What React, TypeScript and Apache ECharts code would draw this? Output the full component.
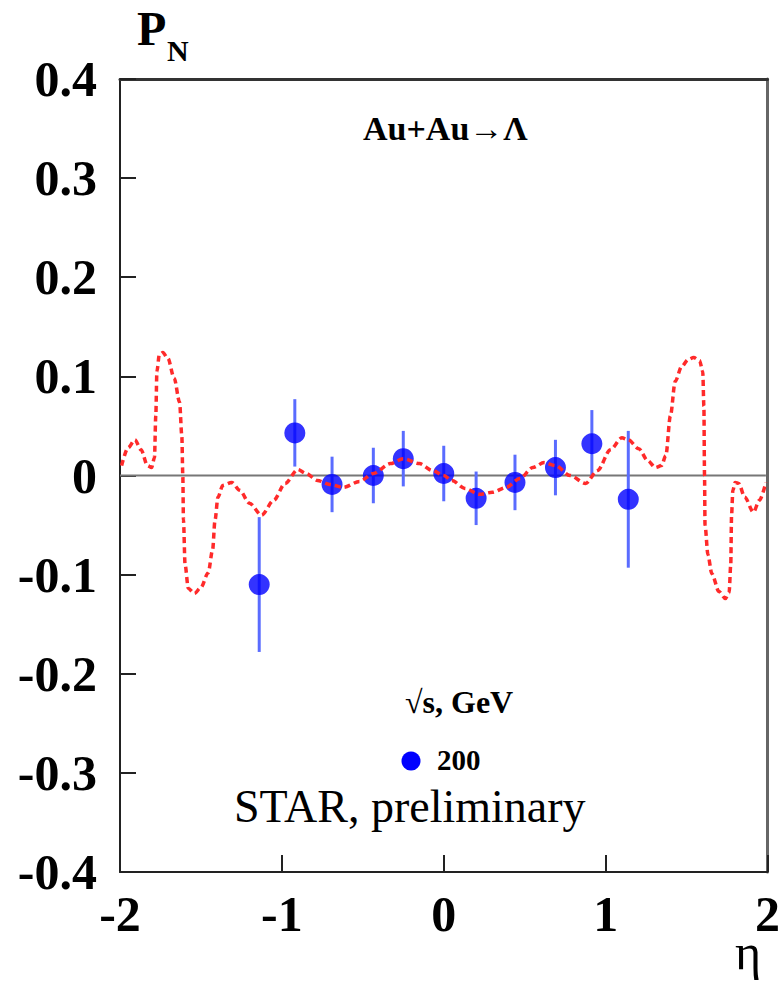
import React, { useEffect, useRef } from "react";
import * as echarts from "echarts";

// Measured data points: pseudorapidity, polarization, statistical error
const etaPoints = [-1.14, -0.92, -0.69, -0.435, -0.25, 0.0, 0.2, 0.44, 0.69, 0.915, 1.14];
const polValues = [-0.110, 0.043, -0.009, 0.0, 0.017, 0.002, -0.023, -0.007, 0.008, 0.032, -0.024];
const polErrors = [0.068, 0.034, 0.028, 0.028, 0.028, 0.028, 0.027, 0.028, 0.028, 0.034, 0.069];

// Model curve (red dashed)
const curveEta = [
  -1.99, -1.95, -1.908, -1.87, -1.83, -1.805, -1.787, -1.779, -1.772, -1.757, -1.735, -1.704,
  -1.665, -1.632, -1.618, -1.612, -1.608, -1.598, -1.578, -1.54, -1.5, -1.455, -1.428, -1.413,
  -1.395, -1.365, -1.31, -1.26, -1.2, -1.125, -1.05, -0.98, -0.902, -0.85, -0.78, -0.705,
  -0.62, -0.52, -0.435, -0.33, -0.25, -0.15, -0.07, 0.0, 0.05, 0.13, 0.22, 0.3, 0.385, 0.47,
  0.55, 0.62, 0.69, 0.78, 0.876, 0.95, 1.03, 1.1, 1.14, 1.205, 1.26, 1.308, 1.345, 1.372,
  1.4, 1.43, 1.47, 1.51, 1.544, 1.58, 1.6, 1.607, 1.611, 1.614, 1.632, 1.656, 1.7, 1.74,
  1.763, 1.773, 1.778, 1.786, 1.8, 1.822, 1.86, 1.913, 1.95, 1.99,
];
const curveP = [
  0.010, 0.028, 0.036, 0.026, 0.010, 0.008, 0.018, 0.060, 0.105, 0.122, 0.124, 0.118,
  0.098, 0.074, 0.040, 0.0, -0.045, -0.090, -0.114, -0.119, -0.113, -0.098, -0.075, -0.045,
  -0.022, -0.010, -0.007, -0.015, -0.028, -0.040, -0.025, -0.008, 0.006, 0.002, -0.005, -0.009,
  -0.012, -0.006, 0.002, 0.012, 0.017, 0.012, 0.005, 0.0, -0.005, -0.013, -0.019, -0.017, -0.012, -0.003,
  0.008, 0.013, 0.010, 0.0, -0.008, 0.005, 0.026, 0.038, 0.036, 0.027, 0.015, 0.008, 0.010, 0.020,
  0.060, 0.095, 0.110, 0.117, 0.119, 0.116, 0.105, 0.070, 0.0, -0.050, -0.080, -0.099, -0.117, -0.124,
  -0.118, -0.090, -0.040, -0.015, -0.007, -0.008, -0.022, -0.037, -0.025, -0.007,
];

const xTicks = [-2, -1, 0, 1, 2];
const yTicks = [-0.4, -0.3, -0.2, -0.1, 0, 0.1, 0.2, 0.3, 0.4];

const SERIF = "'Liberation Serif', 'Times New Roman', serif";

export default function App() {
  const ref = useRef<HTMLDivElement>(null);

  useEffect(() => {
    if (!ref.current) return;
    const chart = echarts.init(ref.current, null, { renderer: "svg" });

    const pointData = etaPoints.map((e, i) => [e, polValues[i]]);
    const errData = etaPoints.map((e, i) => [e, polValues[i], polErrors[i]]);
    const curveData = curveEta.map((e, i) => [e, curveP[i]]);

    const option: any = {
      animation: false,
      backgroundColor: "#ffffff",
      grid: { left: 120, right: 14, top: 79, bottom: 121, containLabel: false },
      xAxis: [
        {
          type: "value",
          min: xTicks[0],
          max: xTicks[xTicks.length - 1],
          interval: 1,
          axisLine: { show: true, onZero: false, lineStyle: { color: "#222", width: 2 } },
          axisTick: { show: true, inside: true, length: 17, lineStyle: { color: "#222", width: 2 } },
          splitLine: { show: false },
          axisLabel: {
            margin: 17,
            fontFamily: SERIF,
            fontWeight: "bold",
            fontSize: 50,
            color: "#000",
            formatter: (v: number) => String(v),
          },
        },
        {
          type: "value",
          position: "top",
          min: -2,
          max: 2,
          axisLine: { show: true, onZero: false, lineStyle: { color: "#333", width: 3 } },
          axisTick: { show: false },
          axisLabel: { show: false },
          splitLine: { show: false },
        },
      ],
      yAxis: [
        {
          type: "value",
          min: yTicks[0],
          max: yTicks[yTicks.length - 1],
          interval: 0.1,
          axisLine: { show: true, onZero: false, lineStyle: { color: "#222", width: 2 } },
          axisTick: { show: true, inside: true, length: 16, lineStyle: { color: "#222", width: 2 } },
          splitLine: { show: false },
          axisLabel: {
            margin: 23,
            fontFamily: SERIF,
            fontWeight: "bold",
            fontSize: 50,
            color: "#000",
            formatter: (v: number) => (Math.abs(v) < 1e-9 ? "0" : v.toFixed(1)),
          },
        },
        {
          type: "value",
          position: "right",
          min: -0.4,
          max: 0.4,
          axisLine: { show: true, onZero: false, lineStyle: { color: "#666", width: 3 } },
          axisTick: { show: false },
          axisLabel: { show: false },
          splitLine: { show: false },
        },
      ],
      series: [
        {
          name: "zero",
          type: "line",
          data: [[-2, 0], [1.99, 0]],
          symbol: "none",
          lineStyle: { color: "#777", width: 2 },
          silent: true,
          z: 1,
        },
        {
          name: "errors",
          type: "custom",
          data: errData,
          encode: { x: 0, y: 1 },
          z: 2,
          renderItem: (params: any, api: any) => {
            const x = api.value(0);
            const y = api.value(1);
            const e = api.value(2);
            const p1 = api.coord([x, y - e]);
            const p2 = api.coord([x, y + e]);
            return {
              type: "line",
              shape: { x1: p1[0], y1: p1[1], x2: p2[0], y2: p2[1] },
              style: { stroke: "#5a6cff", lineWidth: 3 },
            };
          },
        },
        {
          name: "200",
          type: "scatter",
          data: pointData,
          symbol: "circle",
          symbolSize: 21,
          itemStyle: { color: "#0000ff" },
          z: 3,
        },
        {
          name: "model",
          type: "line",
          data: curveData,
          symbol: "none",
          smooth: 0.3,
          smoothMonotone: "x",
          lineStyle: { color: "#ff2a2a", width: 3.5, type: [6, 4] },
          z: 4,
        },
      ],
      graphic: [
        {
          type: "text",
          x: 137,
          y: 28,
          style: { text: "P", font: `bold 48px ${SERIF}`, fill: "#000", textAlign: "left", textVerticalAlign: "middle" },
        },
        {
          type: "text",
          x: 167,
          y: 50,
          style: { text: "N", font: `bold 30px ${SERIF}`, fill: "#000", textAlign: "left", textVerticalAlign: "middle" },
        },
        {
          type: "text",
          x: 363,
          y: 128,
          style: { text: "Au+Au\u2192\u039B", font: `bold 34px ${SERIF}`, fill: "#000", textAlign: "left", textVerticalAlign: "middle" },
        },
        {
          type: "text",
          x: 405,
          y: 702,
          style: { text: "\u221As, GeV", font: `bold 32px ${SERIF}`, fill: "#000", textAlign: "left", textVerticalAlign: "middle" },
        },
        {
          type: "circle",
          shape: { cx: 411, cy: 761, r: 9.5 },
          style: { fill: "#0000ff" },
        },
        {
          type: "text",
          x: 437,
          y: 760,
          style: { text: "200", font: `bold 29px ${SERIF}`, fill: "#000", textAlign: "left", textVerticalAlign: "middle" },
        },
        {
          type: "text",
          x: 234,
          y: 806,
          style: { text: "STAR, preliminary", font: `46px ${SERIF}`, fill: "#000", textAlign: "left", textVerticalAlign: "middle" },
        },
        {
          type: "text",
          x: 748,
          y: 952,
          style: { text: "\u03B7", font: `50px ${SERIF}`, fill: "#000", textAlign: "center", textVerticalAlign: "middle" },
        },
      ],
    };

    chart.setOption(option);
    return () => chart.dispose();
  }, []);

  return <div ref={ref} style={{ width: 783, height: 993, position: "absolute", left: 0, top: 0 }} />;
}
